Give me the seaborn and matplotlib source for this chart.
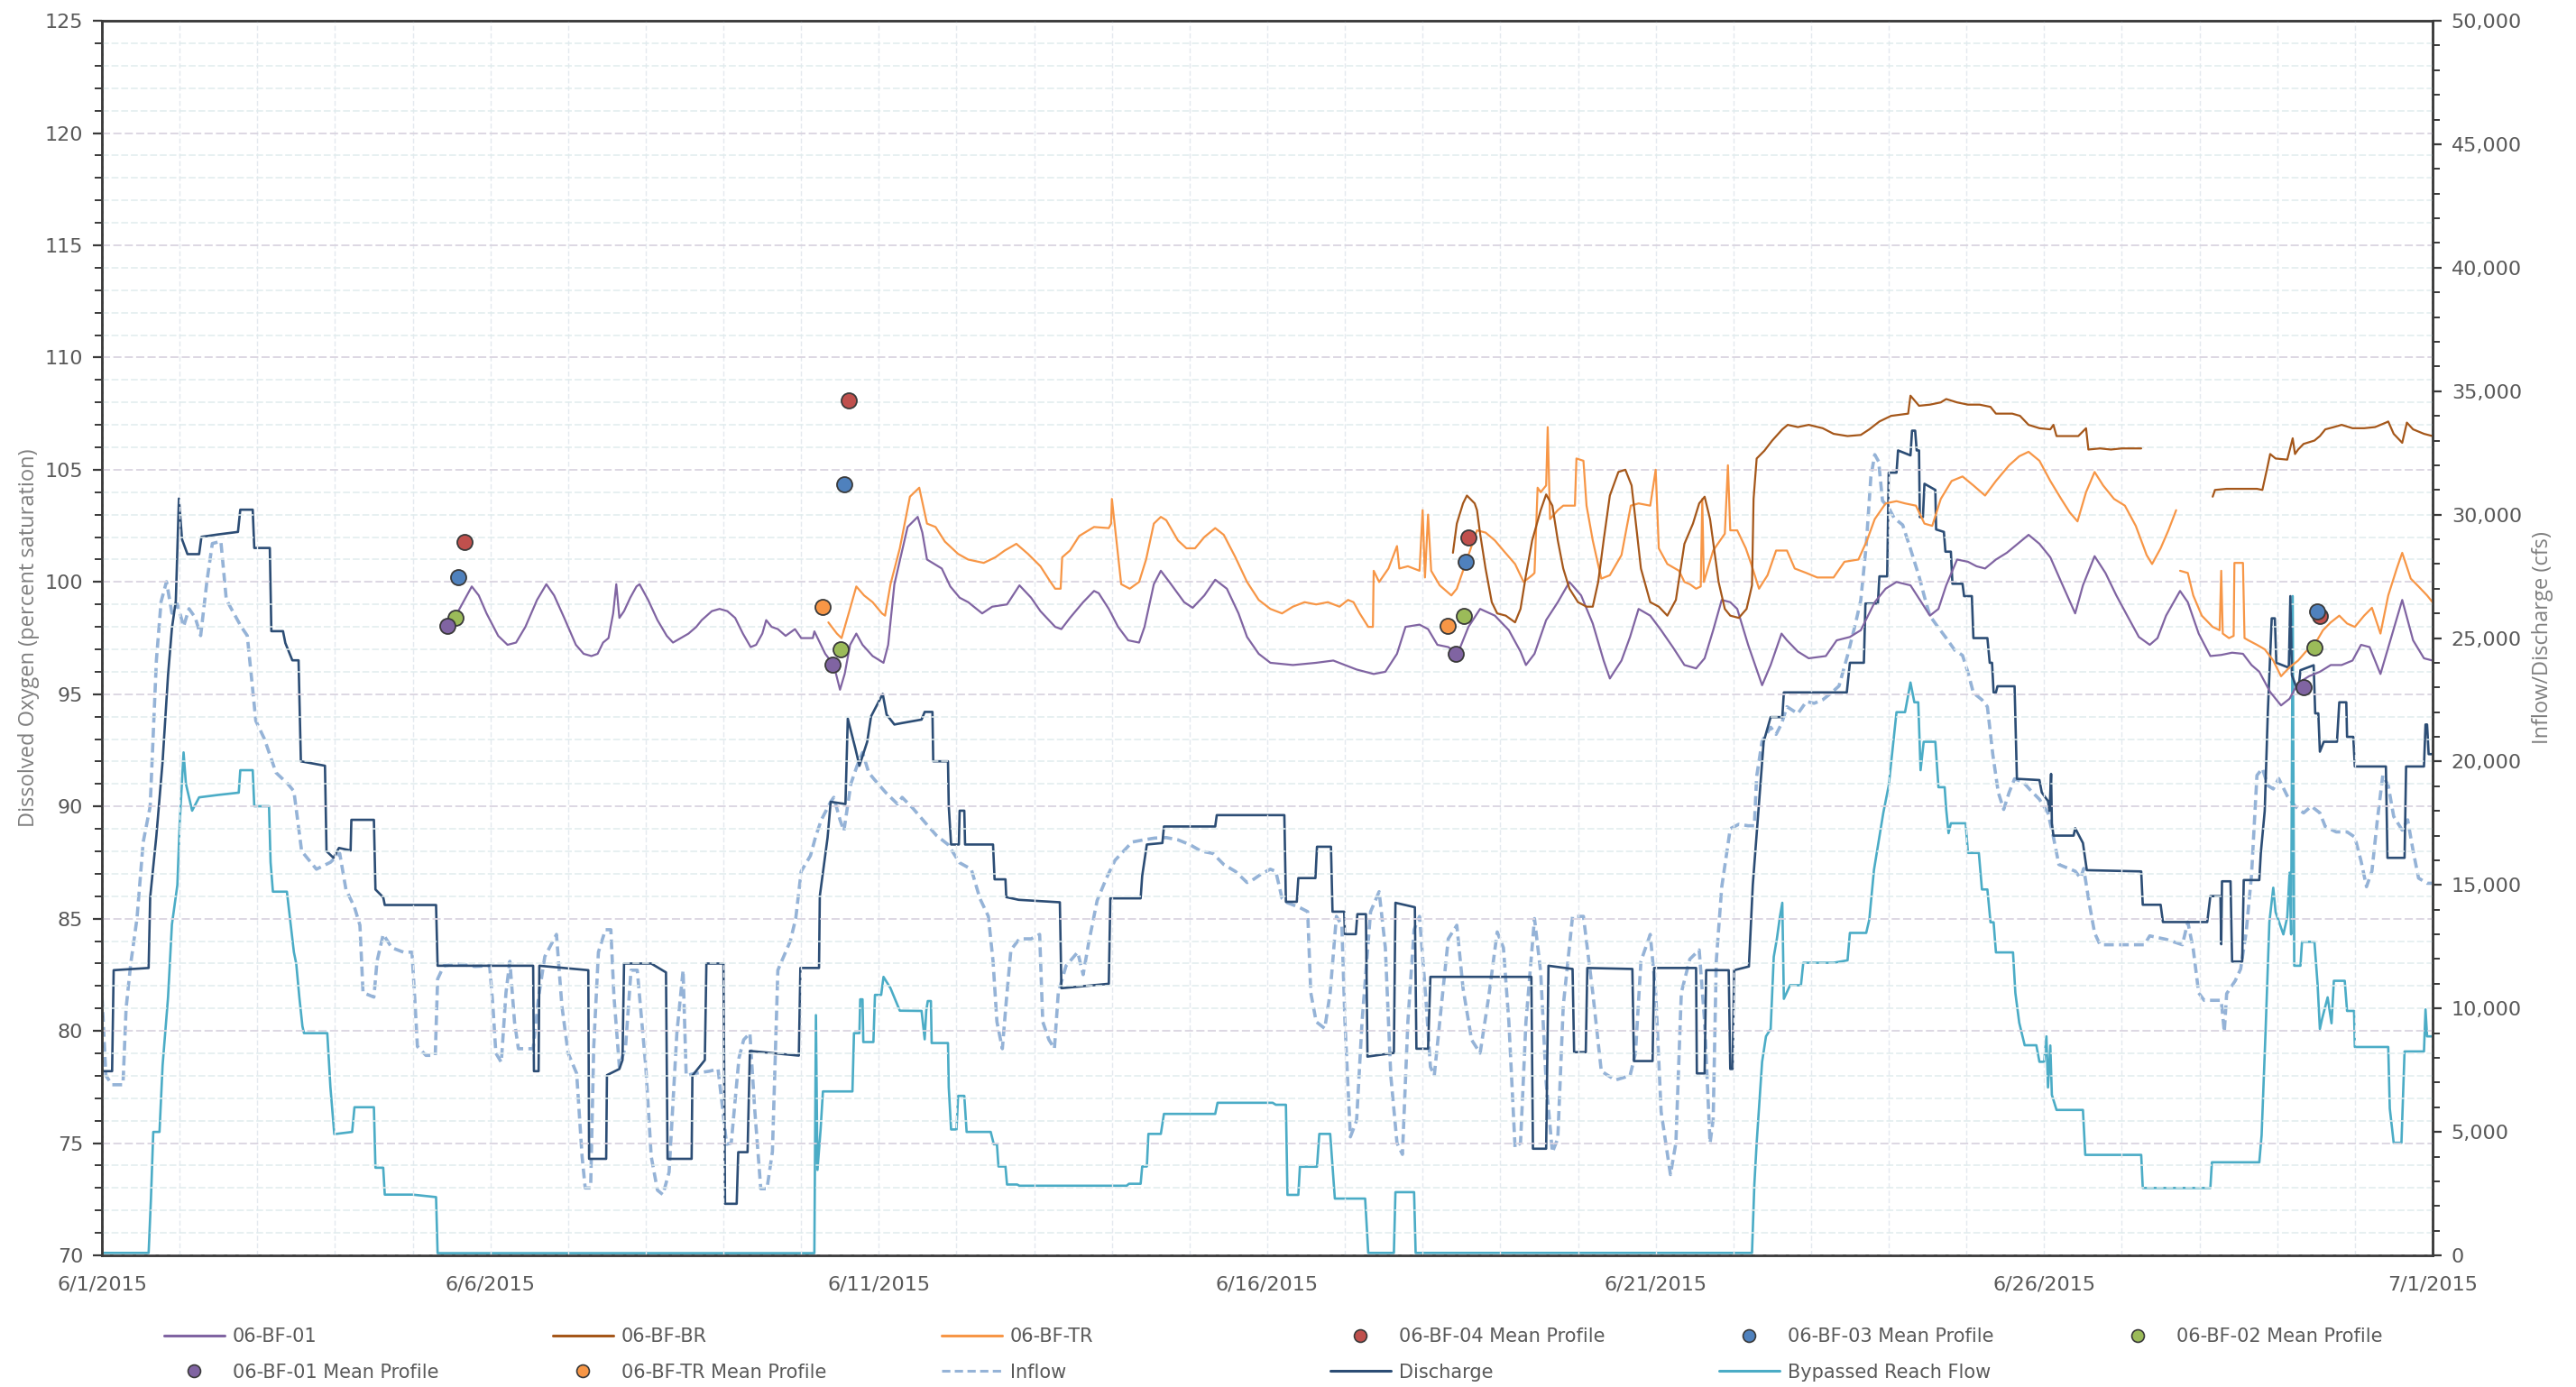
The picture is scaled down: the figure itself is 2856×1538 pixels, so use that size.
import pandas as pd
import seaborn as sns
import matplotlib
matplotlib.use('Agg')
import matplotlib.pyplot as plt
import matplotlib.dates as mdates
from matplotlib.ticker import MultipleLocator, FuncFormatter
from matplotlib.lines import Line2D

# --- data (day offset from 6/1/2015 00:00, value) ---
start = pd.Timestamp('2015-06-01')
tick_days = [0, 5, 10, 15, 20, 25, 30]
tick_labels = ['6/1/2015', '6/6/2015', '6/11/2015', '6/16/2015', '6/21/2015', '6/26/2015', '7/1/2015']

# 06-BF-01 dissolved oxygen (% sat)
bf01_day = [4.57, 4.76, 4.85, 4.95, 5.1, 5.22, 5.33, 5.45, 5.6, 5.72, 5.82, 5.95, 6.1, 6.2, 6.3, 6.38, 6.45, 6.52,
            6.58, 6.62, 6.66, 6.72, 6.8, 6.88, 6.92, 7.03, 7.15, 7.27, 7.35, 7.45, 7.55, 7.65, 7.72, 7.85, 7.95,
            8.05, 8.15, 8.25, 8.35, 8.42, 8.5, 8.55, 8.62, 8.7, 8.8, 8.92, 9.0, 9.15, 9.17, 9.31, 9.42, 9.5, 9.56,
            9.63, 9.71, 9.79, 9.92, 10.06, 10.12, 10.2, 10.29, 10.37, 10.5, 10.56, 10.62, 10.81, 10.92, 11.04,
            11.15, 11.33, 11.46, 11.65, 11.81, 11.96, 12.08, 12.27, 12.35, 12.46, 12.63, 12.77, 12.83, 12.96,
            13.08, 13.21, 13.35, 13.42, 13.54, 13.63, 13.74,
            13.93, 14.04, 14.19, 14.33, 14.48, 14.63, 14.74, 14.89, 15.04, 15.33, 15.63, 15.85, 16.0, 16.15,
            16.37, 16.52, 16.67, 16.78, 16.96, 17.07, 17.19, 17.33, 17.45, 17.59, 17.74, 17.93, 18.11, 18.26,
            18.33, 18.44, 18.59, 18.74, 18.89, 19.04, 19.19, 19.33, 19.41, 19.56, 19.67, 19.78, 19.93, 20.07,
            20.22, 20.37, 20.52, 20.63, 20.74, 20.85, 20.96, 21.05, 21.19, 21.37, 21.48, 21.62, 21.69, 21.83,
            21.97, 22.19, 22.33, 22.5, 22.64, 22.82, 22.96, 23.1, 23.28, 23.42, 23.53, 23.64, 23.74, 23.88,
            24.02, 24.13, 24.24, 24.38, 24.52, 24.66, 24.8, 24.94, 25.08, 25.22, 25.4, 25.5, 25.65, 25.79,
            25.93, 26.07, 26.22, 26.36, 26.46, 26.57, 26.75, 26.85, 26.99, 27.14, 27.28, 27.42, 27.56, 27.67,
            27.77, 27.91, 28.05, 28.16, 28.27, 28.41, 28.55, 28.69, 28.83, 28.97, 29.08, 29.19, 29.33, 29.47,
            29.61, 29.75, 29.89, 30.0]
bf01_do = [98.6, 99.8, 99.4, 98.6, 97.6, 97.2, 97.3, 98.0, 99.2, 99.9, 99.4, 98.4, 97.2, 96.8, 96.7, 96.8, 97.3, 97.5,
           98.6, 99.9, 98.4, 98.7, 99.3, 99.8, 99.9, 99.2, 98.3, 97.6, 97.3, 97.5, 97.7, 98.0, 98.3, 98.7, 98.8,
           98.7, 98.4, 97.7, 97.1, 97.2, 97.7, 98.3, 98.0, 97.9, 97.6, 97.9, 97.5, 97.5, 97.8, 96.8, 96.3, 95.2, 95.9,
           97.2, 97.7, 97.2, 96.7, 96.4, 97.2, 99.9, 101.25, 102.45, 102.9, 102.2, 101.0, 100.6, 99.8, 99.3,
           99.1, 98.6, 98.9, 99.0, 99.85, 99.3, 98.7, 98.0, 97.9, 98.4, 99.1, 99.6, 99.5, 98.8,
           98.0, 97.4, 97.3, 98.0, 99.9, 100.5, 100.0,
           99.1, 98.85, 99.4, 100.1, 99.7, 98.6, 97.55, 96.8, 96.4, 96.3, 96.4, 96.5, 96.3, 96.1,
           95.9, 96.0, 96.8, 98.0, 98.1, 97.9, 97.2, 97.1, 96.8, 98.0, 98.8, 98.5, 97.85, 96.9,
           96.3, 96.8, 98.3, 99.1, 100.0, 99.4, 98.15, 96.5, 95.7, 96.5, 97.55, 98.8, 98.5, 97.85,
           97.1, 96.3, 96.15, 96.6, 97.85, 99.2, 99.1, 98.8, 97.2, 95.4, 96.3, 97.7, 97.4, 96.9,
           96.6, 96.7, 97.4, 97.55, 97.85, 99.1, 99.7, 100.0, 99.85, 99.1, 98.5, 98.8, 99.85, 101.0,
           100.9, 100.7, 100.6, 101.0, 101.3, 101.7, 102.1, 101.7, 101.1, 100.0, 98.6, 99.85, 101.15, 100.4,
           99.4, 98.5, 97.55, 97.2, 97.5, 98.5, 99.6, 99.1, 97.7, 96.7, 96.75, 96.85, 96.8, 96.3,
           96.0, 95.1, 94.5, 94.8, 95.5, 95.8, 96.0, 96.3, 96.3, 96.5, 97.2, 97.1, 95.9, 97.55,
           99.2, 97.4, 96.6, 96.5]

# 06-BF-BR (two logged segments)
bfbr_day_a = [17.39, 17.44, 17.52, 17.57, 17.67, 17.7, 17.74, 17.81, 17.89, 17.96, 18.07, 18.19, 18.26, 18.33, 18.41,
              18.52, 18.59, 18.67, 18.74, 18.81, 18.89, 19.0, 19.11, 19.19, 19.26, 19.33, 19.41, 19.52, 19.61, 19.69,
              19.76, 19.81, 19.93, 20.04, 20.15, 20.26, 20.37, 20.48, 20.56, 20.63, 20.7, 20.81, 20.89, 20.96, 21.07,
              21.17, 21.24, 21.26, 21.3, 21.4, 21.5, 21.63, 21.7, 21.83, 21.97, 22.15, 22.29, 22.47, 22.64, 22.75,
              22.88, 23.03, 23.25, 23.28, 23.39, 23.53, 23.67, 23.74, 23.88, 24.02, 24.17, 24.31, 24.38, 24.59,
              24.69, 24.8, 24.94, 25.08, 25.12, 25.16, 25.3, 25.44, 25.54, 25.57, 25.72, 25.86, 26.0, 26.15, 26.25]
bfbr_do_a = [101.3, 102.6, 103.5, 103.85, 103.5, 103.2, 102.15, 100.6, 99.1, 98.6, 98.5, 98.2, 98.8, 100.3, 101.85,
             103.2, 103.9, 103.4, 101.85, 100.6, 99.7, 99.1, 98.9, 98.9, 100.0, 101.85, 103.85, 104.9, 105.0, 104.3,
             102.15, 100.6, 99.1, 98.9, 98.5, 99.2, 101.7, 102.6, 103.5, 103.8, 102.8, 100.0, 98.8, 98.5, 98.4,
             98.8, 99.85, 103.7, 105.5, 105.85, 106.3, 106.8, 107.0, 106.9, 107.0, 106.85, 106.6, 106.5, 106.55, 106.8,
             107.15, 107.4, 107.5, 108.3, 107.85, 107.9, 108.0, 108.15, 108.0, 107.9, 107.9, 107.8, 107.5, 107.5,
             107.4, 107.0, 106.85, 106.8, 107.0, 106.5, 106.5, 106.5, 106.85, 105.9, 105.95, 105.9, 105.95, 105.95, 105.95]
bfbr_day_b = [27.17, 27.2, 27.35, 27.56, 27.74, 27.81, 27.88, 27.91, 27.98, 28.13, 28.2, 28.23, 28.27, 28.34, 28.48,
              28.55, 28.62, 28.73, 28.83, 28.97, 29.12, 29.26, 29.4, 29.43, 29.5, 29.61, 29.67, 29.75, 29.89, 30.0]
bfbr_do_b = [103.8, 104.1, 104.15, 104.15, 104.15, 104.1, 105.2, 105.7, 105.5, 105.45, 106.4, 105.7, 105.9, 106.15, 106.3,
             106.5, 106.8, 106.9, 107.0, 106.85, 106.85, 106.9, 107.1, 107.15, 106.6, 106.2, 107.1, 106.8, 106.6, 106.5]

# 06-BF-TR (two logged segments)
bftr_day_a = [9.35, 9.46, 9.52, 9.62, 9.71, 9.81, 9.92, 10.04, 10.08, 10.15, 10.27, 10.4, 10.52, 10.62, 10.73, 10.85,
              11.02, 11.15, 11.35, 11.5, 11.62, 11.77, 11.92, 12.08, 12.21, 12.27, 12.34, 12.36, 12.46, 12.58, 12.77,
              12.96, 12.99, 13.0, 13.12, 13.23, 13.35, 13.44, 13.54, 13.63, 13.7, 13.85, 13.96, 14.07, 14.19, 14.33, 14.44,
              14.59, 14.74, 14.89, 15.04, 15.19, 15.33, 15.48, 15.63, 15.78, 15.93, 16.04, 16.11, 16.19, 16.3, 16.36,
              16.37, 16.44, 16.56, 16.67, 16.7, 16.81, 16.96, 17.0, 17.03, 17.07, 17.11, 17.22, 17.37, 17.44, 17.59,
              17.7, 17.81, 17.93, 18.04, 18.19, 18.3, 18.41, 18.44, 18.48, 18.52, 18.59, 18.61, 18.64, 18.74, 18.81,
              18.92, 18.96, 18.98, 19.07, 19.11, 19.19, 19.3, 19.41, 19.56, 19.68, 19.78, 19.93, 20.0, 20.04, 20.15,
              20.3, 20.37, 20.44, 20.52, 20.58, 20.6, 20.62, 20.74, 20.89, 20.93, 20.96, 21.05, 21.16, 21.23, 21.33,
              21.44, 21.55, 21.69, 21.79, 21.94, 22.08, 22.29, 22.43, 22.61, 22.72, 22.82, 22.96, 23.1, 23.21, 23.35,
              23.46, 23.56, 23.67, 23.81, 23.95, 24.09, 24.24, 24.38, 24.55, 24.68, 24.8, 24.94, 25.08, 25.22, 25.33,
              25.43, 25.54, 25.65, 25.76, 25.9, 26.04, 26.18, 26.32, 26.39, 26.5, 26.6, 26.7]
bftr_do_a = [98.2, 97.7, 97.5, 98.7, 99.8, 99.4, 99.1, 98.6, 98.5, 99.9, 101.5, 103.8, 104.2, 102.6, 102.45, 101.8,
             101.25, 101.0, 100.85, 101.1, 101.4, 101.7, 101.25, 100.7, 100.0, 99.7, 99.7, 101.1, 101.4, 102.05, 102.45,
             102.4, 102.6, 103.7, 99.9, 99.7, 100.0, 101.0, 102.6, 102.9, 102.75, 101.85, 101.5, 101.5, 102.0, 102.4, 102.1,
             101.1, 100.0, 99.2, 98.8, 98.6, 98.9, 99.1, 99.0, 99.1, 98.9, 99.2, 99.1, 98.6, 98.0, 98.0,
             100.5, 100.0, 100.6, 101.6, 100.6, 100.7, 100.5, 103.2, 100.2, 103.0, 100.5, 99.85, 99.4, 99.7, 101.2,
             102.3, 102.2, 101.85, 101.4, 100.8, 100.0, 100.3, 100.4, 104.2, 104.0, 104.3, 106.9, 102.8, 103.2, 103.4,
             103.4, 103.4, 105.5, 105.4, 103.4, 101.85, 100.15, 100.3, 101.2, 103.4, 103.5, 103.4, 105.0, 101.5, 100.8,
             100.5, 100.0, 99.9, 99.7, 99.8, 103.7, 100.0, 101.4, 102.15, 105.2, 102.3, 102.3, 101.5, 100.8, 99.7,
             100.3, 101.4, 101.4, 100.6, 100.4, 100.2, 100.2, 100.9, 101.0, 101.85, 102.8, 103.5, 103.6, 103.5, 103.4,
             102.6, 102.5, 103.7, 104.5, 104.7, 104.3, 103.85, 104.5, 105.2, 105.6, 105.8, 105.4, 104.5, 103.7, 103.1,
             102.7, 104.0, 104.9, 104.3, 103.7, 103.4, 102.5, 101.2, 100.8, 101.5, 102.3, 103.2]
bftr_day_b = [26.75, 26.85, 26.92, 27.03, 27.17, 27.26, 27.28, 27.3, 27.38, 27.44, 27.45, 27.56, 27.58, 27.63, 27.74,
              27.84, 27.95, 28.05, 28.16, 28.27, 28.37, 28.48, 28.59, 28.69, 28.8, 28.9, 29.0, 29.12, 29.22, 29.33,
              29.43, 29.54, 29.61, 29.72, 29.82, 29.93, 30.0]
bftr_do_b = [100.5, 100.4, 99.4, 98.5, 98.0, 97.85, 100.5, 97.7, 97.5, 97.6, 100.85, 100.85, 97.5, 97.4, 97.2,
             97.0, 96.5, 95.8, 96.2, 96.5, 96.9, 97.2, 97.85, 98.2, 98.5, 98.15, 98.0, 98.5, 98.85, 97.7,
             99.4, 100.6, 101.3, 100.15, 99.8, 99.4, 99.1]

# mean profile points (day, DO)
bf04_mp_day = [4.67, 9.61, 17.59, 28.55]
bf04_mp_do = [101.8, 108.1, 102.0, 98.5]
bf03_mp_day = [4.59, 9.56, 17.56, 28.51]
bf03_mp_do = [100.2, 104.35, 100.9, 98.7]
bf02_mp_day = [4.55, 9.51, 17.53, 28.48]
bf02_mp_do = [98.4, 97.0, 98.5, 97.1]
bf01_mp_day = [4.45, 9.4, 17.43, 28.34]
bf01_mp_do = [98.05, 96.3, 96.8, 95.3]
bftr_mp_day = [9.28, 17.32]
bftr_mp_do = [98.9, 98.05]

# flows (cfs)
inflow_day = [0, 0.05, 0.13, 0.27, 0.31, 0.37, 0.45, 0.53, 0.62, 0.7, 0.76, 0.83, 0.9, 0.97, 1.05, 1.12, 1.2, 1.27,
              1.35, 1.42, 1.53, 1.6, 1.79, 1.87, 1.98, 2.09, 2.24, 2.39, 2.47, 2.57, 2.76, 2.94, 3.06, 3.14, 3.25,
              3.32, 3.36, 3.43, 3.5, 3.54, 3.62, 3.73, 3.88, 3.99, 4.03, 4.06, 4.17, 4.29, 4.32, 4.4, 4.6, 4.8, 4.99,
              5.03, 5.07, 5.14, 5.2, 5.25, 5.31, 5.36, 5.55, 5.62, 5.7, 5.85, 5.92, 6.0, 6.11, 6.18, 6.22, 6.29,
              6.33, 6.39, 6.48, 6.55, 6.59, 6.66, 6.74, 6.81, 6.89, 7.0, 7.07, 7.15, 7.22, 7.3, 7.4, 7.48, 7.52,
              7.63, 7.82, 7.93, 8.0, 8.04, 8.1, 8.2, 8.26, 8.34, 8.4, 8.48, 8.56, 8.63, 8.7, 8.86, 8.93, 9.0, 9.12,
              9.19, 9.26, 9.38, 9.42, 9.5, 9.55, 9.64, 9.72, 9.79, 9.87, 9.94, 10.09, 10.24, 10.3, 10.44, 10.59,
              10.74, 10.89, 11.04, 11.19, 11.3, 11.41, 11.47, 11.52, 11.59, 11.64, 11.7, 11.81, 11.96, 12.07, 12.11,
              12.19, 12.26, 12.31, 12.41, 12.56, 12.63, 12.7, 12.81, 12.93, 13.04, 13.15, 13.26, 13.41, 13.55, 13.7,
              13.85, 14.0, 14.15, 14.3, 14.44, 14.59, 14.74, 14.81, 14.93, 15.04, 15.11, 15.19, 15.26, 15.41, 15.52,
              15.56, 15.63, 15.74, 15.81, 15.89, 15.96, 16.0, 16.07, 16.15, 16.22, 16.33, 16.44, 16.52, 16.59, 16.67,
              16.74, 16.81, 16.89, 16.96, 17.04, 17.1, 17.15, 17.22, 17.33, 17.44, 17.52, 17.63, 17.74, 17.85, 17.96,
              18.04, 18.11, 18.19, 18.26, 18.33, 18.44, 18.52, 18.59, 18.67, 18.74, 18.81, 18.93, 19.07, 19.19, 19.3,
              19.48, 19.67, 19.74, 19.81, 19.93, 20.0, 20.07, 20.19, 20.26, 20.33, 20.44, 20.56, 20.63, 20.7, 20.74,
              20.78, 20.85, 20.96, 21.07, 21.19, 21.27, 21.3, 21.37, 21.48, 21.55, 21.62, 21.69, 21.83, 21.94, 22.04,
              22.15, 22.26, 22.36, 22.47, 22.57, 22.64, 22.71, 22.77, 22.82, 22.87, 22.92, 23.0, 23.07, 23.18, 23.28,
              23.39, 23.46, 23.53, 23.64, 23.74, 23.85, 23.95, 24.02, 24.09, 24.2, 24.27, 24.34, 24.41, 24.48, 24.55,
              24.62, 24.73, 24.83, 24.94, 25.05, 25.12, 25.19, 25.3, 25.4, 25.47, 25.51, 25.58, 25.65, 25.72, 26.0,
              26.29, 26.36, 26.57, 26.78, 26.85, 26.92, 26.99, 27.06, 27.28, 27.32, 27.35, 27.46, 27.53, 27.6, 27.67,
              27.74, 27.81, 27.88, 27.95, 28.02, 28.13, 28.23, 28.34, 28.44, 28.55, 28.62, 28.76, 28.9, 29.0, 29.08,
              29.15, 29.22, 29.29, 29.36, 29.43, 29.5, 29.61, 29.68, 29.75, 29.82, 29.93, 30.0]
inflow_cfs = [10460, 7280, 6910, 6910, 10000, 11820, 13640, 16730, 18190, 24100, 26470, 27285, 26010, 26380, 25470, 26190,
              25830, 25100, 27285, 28830, 28920, 26560, 25470, 25100, 21650, 20920, 19550, 19100, 18800, 16370, 15640,
              15920, 16280, 14820, 14100, 13370, 10640, 10550, 10460, 11910, 13000, 12460, 12280, 12280, 10190, 8460,
              8100, 8100, 11190, 11730, 11800, 11700, 11730, 10190, 8190, 7820, 10640, 11910, 9460, 8370, 8370, 10460,
              12100, 13000, 10100, 8190, 7370, 4000, 2730, 2730, 8460, 12280, 13190, 13190, 10500, 7640, 8460, 11550,
              11550, 7640, 4000, 2640, 2460, 3370, 9000, 11550, 7280, 7370, 7460, 7550, 5640, 4500, 4550, 8000, 8730,
              9000, 6000, 2700, 2700, 4200, 11550, 12730, 13640, 15550, 16190, 17000, 17640, 18370, 18550, 17640,
              17190, 19100, 19830, 20370, 19550, 19280, 18740, 18280, 18550, 18100, 17550, 17010, 16640, 15900, 15640,
              14460, 13730, 11910, 9460, 8370, 10280, 12370, 12820, 12820, 13000, 9460, 8730, 8370, 10640, 11730,
              12280, 11370, 12640, 14370, 15280, 16000, 16370, 16740, 16830, 16900, 16920, 16830, 16640, 16370, 16280,
              15830, 15550, 15100, 15200, 15460, 15640, 15550, 14460, 14280, 14100, 13920, 10640, 9460, 9190, 10640,
              13730, 13370, 9460, 4800, 5460, 9460, 13920, 14730, 12460, 7280, 4550, 4090, 9460, 13190, 13730, 10460,
              7640, 7280, 9460, 12820, 13370, 10820, 8730, 8190, 10460, 13100, 12460, 9460, 4360, 4550, 9460, 13640,
              11460, 7000, 4180, 4730, 10100, 13730, 13730, 10640, 7460, 7100, 7280, 8190, 11910, 13000, 10640, 5820,
              3270, 4550, 10640, 12000, 12370, 9460, 4550, 5500, 11910, 14910, 17280, 17460, 17400, 17400, 19400,
              20830, 21390, 21100, 21530, 22220, 21940, 22430, 22360, 22500, 22780, 23060, 24300, 25560, 26530, 28750,
              31530, 32430, 32150, 30560, 30280, 29860, 29580, 28610, 27500, 26670, 25900, 25420, 25000, 24510, 24300,
              23610, 22780, 22500, 22220, 20280, 18750, 18060, 18750, 19300, 19170, 18820, 18470, 17920, 16940, 15830,
              15690, 15560, 15280, 15670, 14280, 13060, 12580, 12580, 12580, 12940, 12800, 12580, 13500, 12400, 10630,
              10330, 10330, 9050, 10600, 11120, 11600, 13060, 15400, 19440, 19720, 19030, 18890, 19310, 18610, 18190,
              17920, 18190, 17920, 17360, 17150, 17150, 16940, 15970, 14930, 15560, 17640, 19440, 19030, 17780, 17220,
              17640, 16390, 15280, 15070, 15070]

discharge_day = [0, 0.13, 0.15, 0.6, 0.62, 0.7, 0.78, 0.85, 0.9, 0.95, 0.99, 1.03, 1.1, 1.25, 1.28, 1.5, 1.75, 1.78,
                 1.94, 1.96, 2.16, 2.18, 2.33, 2.36, 2.45, 2.53, 2.56, 2.87, 2.89, 2.98, 3.05, 3.2, 3.21, 3.5, 3.52,
                 3.62, 3.64, 4.3, 4.32, 5.55, 5.56, 5.62, 5.63, 6.26, 6.27, 6.49, 6.5, 6.66, 6.7, 6.72, 7.07, 7.26,
                 7.28, 7.59, 7.6, 7.76, 7.78, 8.0, 8.02, 8.17, 8.19, 8.31, 8.34, 8.97, 8.99, 9.23, 9.24, 9.34, 9.38,
                 9.57, 9.6, 9.7, 9.75, 9.85, 9.9, 10.05, 10.1, 10.2, 10.3, 10.55, 10.59, 10.69, 10.7, 10.89, 10.9,
                 10.93, 11.03, 11.04, 11.1, 11.11, 11.47, 11.49, 11.63, 11.64, 11.8, 12.33, 12.35, 12.96, 12.98, 13.37,
                 13.39, 13.45, 13.65, 13.67, 14.33, 14.35, 15.22, 15.24, 15.38, 15.4, 15.62, 15.64, 15.82, 15.84, 15.99,
                 16.0, 16.14, 16.16, 16.27, 16.29, 16.63, 16.65, 16.9, 16.92, 17.07, 17.1, 18.4, 18.42, 18.59, 18.62,
                 18.93, 18.95, 19.1, 19.12, 19.7, 19.72, 19.96, 19.98, 20.52, 20.53, 20.63, 20.65, 20.94, 20.96, 20.99,
                 21.01, 21.2, 21.25, 21.39, 21.48, 21.63, 21.65, 22.46, 22.5, 22.68, 22.7, 22.86, 22.88, 22.98, 23.0,
                 23.1, 23.12, 23.28, 23.3, 23.34, 23.36, 23.39, 23.4, 23.44, 23.46, 23.6, 23.61, 23.71, 23.73, 23.8,
                 23.82, 23.95, 23.97, 24.07, 24.09, 24.27, 24.3, 24.33, 24.35, 24.38, 24.4, 24.62, 24.65, 24.94, 24.97,
                 25.05, 25.07, 25.09, 25.1, 25.12, 25.38, 25.4, 25.5, 25.55, 26.25, 26.27, 26.5, 26.53, 27.1, 27.14,
                 27.27, 27.28, 27.29, 27.4, 27.42, 27.55, 27.57, 27.77, 27.79, 27.84, 27.88, 27.93, 27.97, 27.99, 28.15,
                 28.17, 28.19, 28.27, 28.3, 28.47, 28.49, 28.53, 28.55, 28.6, 28.77, 28.8, 28.89, 28.9, 28.98, 29.0,
                 29.4, 29.42, 29.64, 29.66, 29.89, 29.91, 29.93, 29.95, 30.0]
discharge_cfs = [7460, 7460, 11550, 11640, 14500, 17000, 20000, 23500, 25400, 26500, 30650, 29000, 28400, 28400, 29100,
                 29200, 29300, 30200, 30200, 28650, 28650, 25280, 25280, 24800, 24100, 24100, 20010, 19830, 16370, 16100,
                 16500, 16400, 17640, 17640, 14820, 14500, 14190, 14190, 11730, 11730, 7460, 7460, 11730, 11550, 3910,
                 3910, 7300, 7550, 7910, 11820, 11820, 11460, 3910, 3910, 7280, 7910, 11820, 11820, 2090, 2090, 4180,
                 4180, 8280, 8090, 11640, 11640, 14550, 16920, 18370, 18280, 21740, 20500, 19830, 20800, 21830, 22740,
                 21900, 21500, 21560, 21700, 22010, 22010, 20010, 20010, 18190, 16640, 16640, 18010, 18010, 16640,
                 16640, 15230, 15230, 14510, 14400, 14300, 10820, 11000, 14460, 14460, 15370, 16640, 16700, 17370,
                 17370, 17830, 17830, 14320, 14320, 15280, 15280, 16550, 16550, 13920, 13920, 13010, 13010, 13820,
                 13820, 8050, 8200, 14280, 14100, 8370, 8370, 11280, 11280, 4320, 4320, 11730, 11600, 8230, 8230,
                 11640, 11600, 7870, 7870, 11640, 11640, 7370, 7370, 11550, 11550, 7550, 7550, 11550, 11700, 15000,
                 20800, 21800, 21800, 22800, 22800, 24000, 24000, 26400, 26400, 27500, 27500, 31700, 31700, 32600,
                 32400, 33400, 33400, 32600, 32600, 29900, 29900, 31250, 31000, 29400, 29300, 28500, 28500, 27200,
                 27200, 26700, 26700, 25000, 25000, 24000, 24000, 22800, 22800, 23050, 23050, 19300, 19250, 18750,
                 18400, 18000, 19500, 17500, 17000, 17000, 17300, 16700, 15600, 15550, 14200, 14200, 13500, 13500,
                 14550, 14550, 12600, 15150, 15150, 11900, 11900, 15200, 15200, 16300, 18000, 22000, 25800, 25800,
                 24000, 23800, 26700, 23500, 22800, 23700, 23900, 21950, 21950, 20400, 20800, 20800, 22400, 22400,
                 21000, 21000, 19800, 19800, 16100, 16100, 19800, 19800, 21500, 21500, 20300, 20300]

bypass_day = [0, 0.6, 0.63, 0.66, 0.74, 0.78, 0.85, 0.9, 0.97, 1.0, 1.05, 1.08, 1.16, 1.25, 1.5, 1.76, 1.78, 1.94,
              1.96, 2.15, 2.17, 2.2, 2.38, 2.42, 2.47, 2.5, 2.54, 2.58, 2.6, 2.9, 2.94, 2.99, 3.22, 3.25, 3.5, 3.52,
              3.62, 3.64, 4.0, 4.3, 4.32, 9.17, 9.19, 9.21, 9.25, 9.28, 9.66, 9.68, 9.75, 9.76, 9.79, 9.8, 9.93,
              9.95, 10.03, 10.06, 10.15, 10.27, 10.55, 10.59, 10.61, 10.63, 10.67, 10.68, 10.89, 10.9, 10.93, 11.0,
              11.02, 11.1, 11.13, 11.44, 11.48, 11.52, 11.54, 11.63, 11.65, 11.78, 11.81, 13.19, 13.22, 13.37, 13.39,
              13.45, 13.47, 13.63, 13.67, 14.33, 14.36, 15.07, 15.11, 15.24, 15.26, 15.4, 15.42, 15.64, 15.67, 15.81,
              15.87, 16.26, 16.3, 16.63, 16.65, 16.89, 16.91, 21.24, 21.27, 21.3, 21.37, 21.42, 21.48, 21.52, 21.56,
              21.6, 21.63, 21.65, 21.73, 21.87, 21.9, 22.29, 22.47, 22.5, 22.71, 22.75, 22.81, 22.93, 23.0, 23.1,
              23.21, 23.28, 23.33, 23.38, 23.41, 23.45, 23.6, 23.64, 23.72, 23.74, 23.77, 23.8, 23.99, 24.02, 24.16,
              24.2, 24.27, 24.31, 24.35, 24.38, 24.6, 24.63, 24.68, 24.75, 24.9, 24.94, 25.0, 25.03, 25.05, 25.08,
              25.1, 25.16, 25.5, 25.53, 26.25, 26.27, 27.14, 27.16, 27.77, 27.8, 27.85, 27.9, 27.95, 27.98, 28.08,
              28.13, 28.16, 28.18, 28.2, 28.22, 28.3, 28.32, 28.48, 28.52, 28.55, 28.58, 28.65, 28.7, 28.73, 28.87,
              28.9, 28.99, 29.0, 29.43, 29.45, 29.5, 29.6, 29.64, 29.89, 29.91, 29.93, 30.0]
bypass_cfs = [100, 100, 2300, 5000, 5000, 7700, 10450, 13400, 15000, 17500, 20370, 19100, 18010, 18550, 18650, 18740,
              19650, 19650, 18190, 18190, 15920, 14730, 14730, 13640, 12280, 11820, 10460, 9280, 9000, 9000, 6820,
              4910, 5000, 6000, 6000, 3550, 3550, 2460, 2460, 2360, 90, 90, 9730, 3460, 5090, 6640, 6640, 9000, 9000,
              10370, 10370, 8640, 8640, 10550, 10550, 11280, 10820, 9910, 9900, 8750, 9900, 10300, 10300, 8600, 8600,
              6800, 5100, 5100, 6460, 6460, 5000, 5000, 4500, 4500, 3600, 3600, 2870, 2870, 2820, 2820, 2900, 2900,
              3600, 3600, 4920, 4920, 5730, 5730, 6180, 6180, 6100, 6100, 2450, 2450, 3590, 3590, 4920, 4920, 2300,
              2300, 100, 100, 2560, 2560, 100, 100, 2860, 4560, 7840, 8870, 9170, 12090, 12820, 13730, 14280, 10390,
              10940, 10940, 11850, 11850, 11950, 13060, 13060, 13600, 15610, 17920, 19030, 22000, 22000, 23200, 22400,
              22400, 19650, 20800, 20800, 18960, 18960, 18050, 17100, 17500, 17500, 16300, 16300, 14820, 14820, 13490,
              13490, 12270, 12270, 10630, 9420, 8510, 8510, 7840, 7840, 8870, 6800, 8500, 6500, 5890, 5890, 4070,
              4070, 2730, 2730, 3770, 3770, 4860, 9000, 13500, 14890, 13900, 13000, 13700, 15500, 13000, 26700, 11730,
              11730, 12700, 12700, 11000, 9170, 9600, 10450, 9400, 11120, 11120, 9900, 9900, 8440, 8440, 5950, 4560,
              4560, 8260, 8260, 9960, 8870, 8870]


def frame(days, vals):
    return pd.DataFrame({'time': start + pd.to_timedelta(days, unit='D'), 'value': vals})


sns.set_style('white')
plt.rcParams['font.family'] = ['DejaVu Sans']

fig = plt.figure(figsize=(28.56, 15.38), dpi=100)
ax = fig.add_axes([0.0396, 0.0949, 0.9047, 0.8901])
ax2 = ax.twinx()
ax.set_zorder(ax2.get_zorder() + 1)
ax.patch.set_visible(False)

# colours
c_bf01 = '#8064A2'
c_bfbr = '#A5571A'
c_bftr = '#F79646'
c_inflow = '#95B3D7'
c_dis = '#2C4D75'
c_byp = '#4BACC6'

# flows on right axis
sns.lineplot(data=frame(inflow_day, inflow_cfs), x='time', y='value', ax=ax2, color=c_inflow, lw=2.6,
             linestyle=(0, (3, 1.6)), estimator=None, sort=False)
sns.lineplot(data=frame(bypass_day, bypass_cfs), x='time', y='value', ax=ax2, color=c_byp, lw=1.9,
             estimator=None, sort=False)
sns.lineplot(data=frame(discharge_day, discharge_cfs), x='time', y='value', ax=ax2, color=c_dis, lw=1.9,
             estimator=None, sort=False)

# dissolved oxygen on left axis
sns.lineplot(data=frame(bf01_day, bf01_do), x='time', y='value', ax=ax, color=c_bf01, lw=1.6, estimator=None, sort=False)
for dd, vv in [(bftr_day_a, bftr_do_a), (bftr_day_b, bftr_do_b)]:
    sns.lineplot(data=frame(dd, vv), x='time', y='value', ax=ax, color=c_bftr, lw=1.6, estimator=None, sort=False)
for dd, vv in [(bfbr_day_a, bfbr_do_a), (bfbr_day_b, bfbr_do_b)]:
    sns.lineplot(data=frame(dd, vv), x='time', y='value', ax=ax, color=c_bfbr, lw=1.6, estimator=None, sort=False)

mp_sets = [(bf04_mp_day, bf04_mp_do, '#C0504D'), (bf03_mp_day, bf03_mp_do, '#4F81BD'),
           (bf02_mp_day, bf02_mp_do, '#9BBB59'), (bf01_mp_day, bf01_mp_do, '#8064A2'),
           (bftr_mp_day, bftr_mp_do, '#F79646')]
for dd, vv, cc in mp_sets:
    sns.scatterplot(data=frame(dd, vv), x='time', y='value', ax=ax, color=cc, s=150, edgecolor='#3a3a3a',
                    linewidth=1.3, zorder=6)

# axes
ax.set_xlim(start, start + pd.Timedelta(days=30))
ax.set_ylim(70, 125)
ax2.set_ylim(0, 50000)
ax.set_xticks([start + pd.Timedelta(days=d) for d in tick_days])
ax.set_xticklabels(tick_labels)
ax.xaxis.set_minor_locator(mdates.DayLocator())
ax.yaxis.set_major_locator(MultipleLocator(5))
ax.yaxis.set_minor_locator(MultipleLocator(1))
ax2.yaxis.set_major_locator(MultipleLocator(5000))
ax2.yaxis.set_minor_locator(MultipleLocator(1000))
ax2.yaxis.set_major_formatter(FuncFormatter(lambda v, p: f'{v:,.0f}'))

ax.grid(which='major', axis='y', color='#DAD4E0', lw=1.3, ls=(0, (5, 2)))
ax.grid(which='minor', axis='y', color='#E0ECED', lw=1.1, ls=(0, (5, 2)))
ax.grid(which='both', axis='x', color='#E4E9EF', lw=1.0, ls=(0, (4, 2)))

for a in (ax, ax2):
    for s in a.spines.values():
        s.set_color('#3a3a3a')
        s.set_linewidth(1.8)
    a.tick_params(which='both', colors='#3a3a3a', labelcolor='#595959', labelsize=16, direction='out')
    a.tick_params(which='major', length=7, width=1.6)
    a.tick_params(which='minor', length=6, width=1.4)
ax.tick_params(axis='x', pad=9)
ax.tick_params(axis='y', pad=8)
ax2.tick_params(axis='y', pad=8)

ax.set_xlabel('')
ax.set_ylabel('Dissolved Oxygen (percent saturation)', fontsize=17, color='#7f7f7f', labelpad=4,
              fontfamily=['Open Sans', 'DejaVu Sans'])
ax2.set_ylabel('Inflow/Discharge (cfs)', fontsize=17, color='#7f7f7f', labelpad=8,
               fontfamily=['Open Sans', 'DejaVu Sans'])

# legend: six columns, row-major like the original
def line_h(c, **kw):
    return Line2D([], [], color=c, lw=2.2, **kw)


def dot_h(c):
    return Line2D([], [], ls='none', marker='o', markersize=10, markerfacecolor=c, markeredgecolor='#3a3a3a',
                  markeredgewidth=1.2)


columns = [
    [(line_h(c_bf01), '06-BF-01'), (dot_h('#8064A2'), '06-BF-01 Mean Profile')],
    [(line_h(c_bfbr), '06-BF-BR'), (dot_h('#F79646'), '06-BF-TR Mean Profile')],
    [(line_h(c_bftr), '06-BF-TR'), (line_h(c_inflow, ls=(0, (3, 1.6))), 'Inflow')],
    [(dot_h('#C0504D'), '06-BF-04 Mean Profile'), (line_h(c_dis), 'Discharge')],
    [(dot_h('#4F81BD'), '06-BF-03 Mean Profile'), (line_h(c_byp), 'Bypassed Reach Flow')],
    [(dot_h('#9BBB59'), '06-BF-02 Mean Profile')],
]
for i, col in enumerate(columns):
    leg = fig.legend([h for h, _ in col], [t for _, t in col], loc='upper left',
                     bbox_to_anchor=((182 + i * 431) / 2856, 1 - 1472 / 1538), frameon=False, fontsize=15,
                     handlelength=3.2, handletextpad=0.45, labelspacing=0.95, borderpad=0, borderaxespad=0)
    for t in leg.get_texts():
        t.set_color('#595959')

fig.savefig('out.png', dpi=100)
